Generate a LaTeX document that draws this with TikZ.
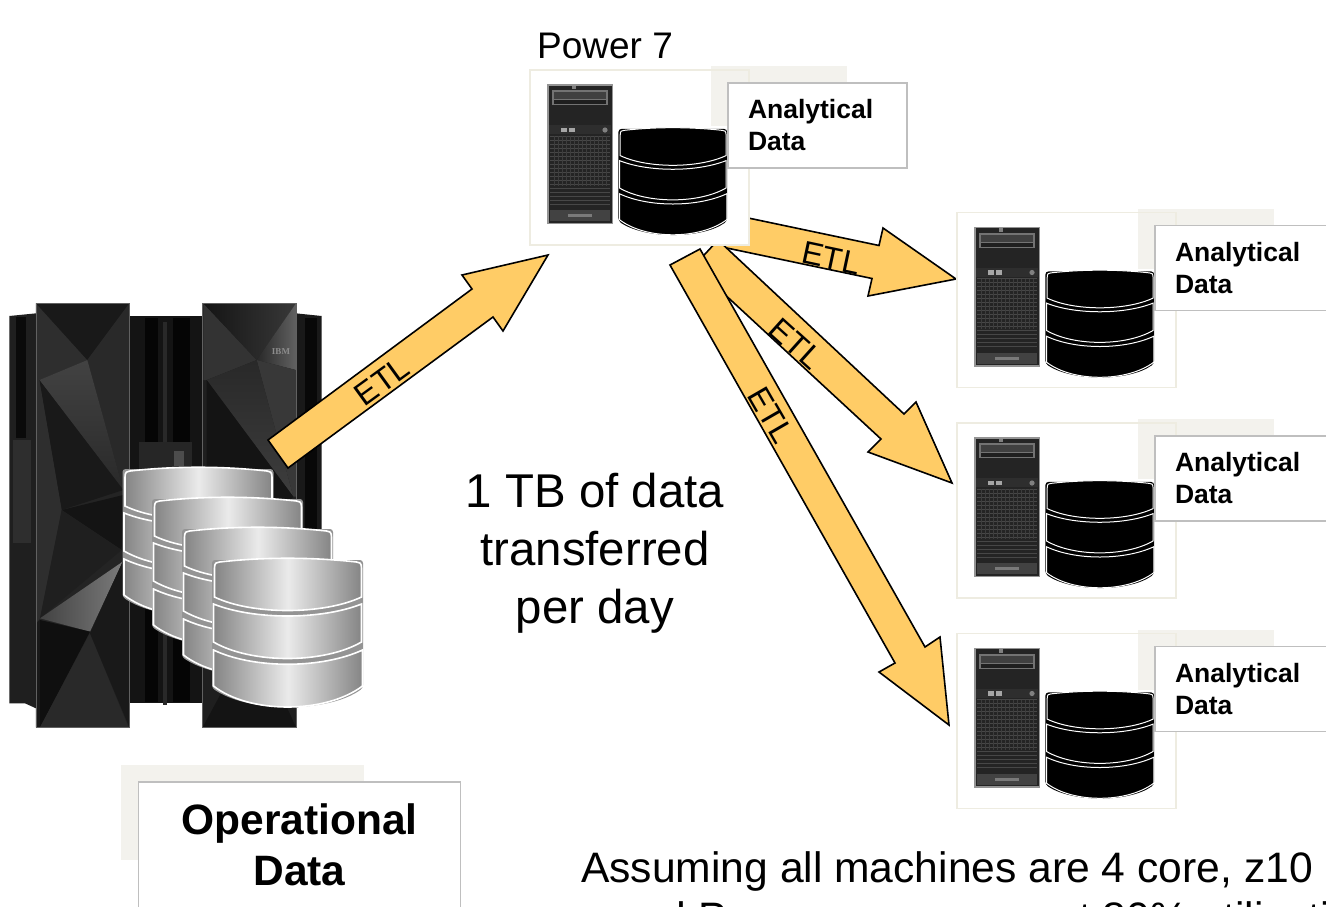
\documentclass[tikz,border=0pt]{standalone}
\usepackage{fontspec}
\setmainfont{Liberation Sans}
\newfontfamily\ibmfont{Liberation Serif}
\usetikzlibrary{calc}
\definecolor{arrowfill}{HTML}{FFCC66}
\definecolor{boxline}{HTML}{EEECE1}
\definecolor{backing}{HTML}{F3F2ED}
\definecolor{calloutline}{HTML}{BFBFBF}
\tikzset{
  x=1pt,y=-1pt,
  blockarrow/.style={draw=black,line width=1.6pt,fill=arrowfill,line join=miter},
  etl/.style={font=\fontsize{32}{32}\selectfont,inner sep=0pt,text=black},
  unitbox/.style={draw=boxline,line width=1.7pt,outer sep=0pt},
  callout/.style={draw=calloutline,line width=1.8pt,fill=white,anchor=north west,align=left,outer sep=0pt,
    text width=139pt,inner xsep=20pt,inner ysep=0pt,minimum height=85pt,
    font=\fontsize{26.5}{32}\selectfont\bfseries},
  facet/.style={draw=none},
  grey disk/.style={draw=white,line width=1.6pt,left color=black!48,right color=black!48,middle color=black!8},
  black disk/.style={draw=white,line width=1pt,fill=black},
  stack grey/.style={fill=black!42},
  stack black/.style={fill=black},
}
% one disk stack: x, y, scale, disk style, backing style
\newcommand{\diskstack}[5]{%
 \begin{scope}[shift={(#1,#2)},x=#3 pt,y=-#3 pt]
  \path[#5,rounded corners=3pt] (-1.5,2) -- (149.5,2) -- (149.5,130) .. controls (115,155) and (35,155) .. (-1.5,130) -- cycle;
  \path[#4] (1,10) .. controls (1,5) and (3,4) .. (6,4) .. controls (50,-1) and (98,-1) .. (143,4) .. controls (146,4) and (148,5) .. (148,10) -- (148,39) .. controls (110,57) and (38,57) .. (1,39) -- cycle;
  \path[#4] (0,46) .. controls (40,62) and (108,62) .. (148,46) -- (148,84) .. controls (110,106) and (38,106) .. (0,84) -- cycle;
  \path[#4] (0,92) .. controls (40,111) and (108,111) .. (149,92) -- (149,128) .. controls (112,156) and (36,156) .. (0,128) -- cycle;
 \end{scope}}
% tower server: origin is the unit's top left corner
\newcommand{\servertower}[2]{%
 \begin{scope}[shift={(#1,#2)}]
  \fill[black!42] (17,14) rectangle (83,154);
  \fill[black!86] (18.5,15.5) rectangle (81.5,152.5);
  \fill[black!55] (22,20) rectangle (78,35);
  \fill[black!75] (24,22) rectangle (76,29);
  \fill[black!88] (24,30) rectangle (76,34);
  \fill[black!50] (42,15.5) rectangle (46,19);
  \fill[black!82] (19,55) rectangle (81,64);
  \fill[black!35] (31,57.5) rectangle (37,62);
  \fill[black!35] (39,57.5) rectangle (45,62);
  \fill[black!50] (75,60) circle (2.6);
  \foreach \yy in {66,70,...,134} {\draw[black!72,line width=.9pt] (20,\yy) -- (80,\yy);}
  \foreach \xx in {24,28,...,76} {\draw[black!76,line width=.7pt] (\xx,66) -- (\xx,116);}
  \fill[black!74] (20,140) rectangle (80,151);
  \fill[black!52] (38,144) rectangle (62,147);
 \end{scope}}
% complete unit: box, backing, tower, disks, callout
\newcommand{\analyticalunit}[3]{%
  \node[unitbox,fill=white,anchor=north west,inner sep=0pt,minimum width=219pt,minimum height=175pt] (#1box) at (#2,#3) {};
  \fill[backing] ($(#2,#3)+(181,-4)$) rectangle ($(#2,#3)+(317,56)$);
  \draw[unitbox] (#2,#3) rectangle ($(#2,#3)+(219,175)$);
  \servertower{#2}{#3}
  \begin{scope}[shift={(#2,#3)}]\diskstack{89.5}{57.5}{0.72}{black disk}{stack black}\end{scope}
  \node[callout] (#1label) at ($(#2,#3)+(198,13)$) {Analytical\\Data};
}
\begin{document}
\begin{tikzpicture}
\useasboundingbox (0,0) rectangle (1326,906);
\clip (0,0) rectangle (1326,906);
\fill[white] (0,0) rectangle (1326,906);

% ---------- mainframe ----------
\begin{scope}[shift={(0,290)},x=0.33333pt,y=-0.33333pt]
  \fill[black!88] (28,78) -- (108,70) -- (108,1255) -- (75,1240) -- (28,1240) -- cycle;
  \fill[black!96] (48,80) rectangle (78,445);
  \fill[black!82] (40,450) -- (92,450) -- (92,760) -- (40,760) -- cycle;
  \fill[black!90] (888,70) -- (965,78) -- (965,1240) -- (918,1240) -- (888,1255) -- cycle;
  \fill[black!97] (915,85) rectangle (950,1230);
  \fill[black!92] (388,78) rectangle (610,1240);
  \fill[black!98] (435,85) rectangle (475,1235);
  \fill[black!84] (490,95) rectangle (502,1245);
  \fill[black!98] (520,85) rectangle (570,1235);
  \fill[black!85] (418,455) -- (575,455) -- (575,540) -- (418,540) -- cycle;
  \fill[black!70] (522,482) rectangle (552,528);
  % left door
  \fill[black!86] (108,40) rectangle (388,1312);
  \fill[black!82,facet] (108,40) -- (262,210) -- (118,270) -- (108,270) -- cycle;
  \fill[black!90,facet] (108,40) -- (388,40) -- (262,210) -- cycle;
  \fill[black!84,facet] (388,40) -- (262,210) -- (370,600) -- (388,600) -- cycle;
  \shade[facet,top color=black!74,bottom color=black!84] (118,270) -- (262,210) -- (370,600) -- cycle;
  \fill[black!90,facet] (118,270) -- (370,600) -- (185,660) -- cycle;
  \fill[black!82,facet] (108,270) -- (118,270) -- (185,660) -- (120,985) -- (108,1000) -- cycle;
  \fill[black!92,facet] (185,660) -- (370,615) -- (365,780) -- cycle;
  \fill[black!88,facet] (185,660) -- (365,780) -- (120,985) -- cycle;
  \shade[facet,left color=black!74,right color=black!52] (120,985) -- (368,815) -- (270,1025) -- cycle;
  \fill[black!94,facet] (120,990) -- (270,1025) -- (120,1312) -- cycle;
  \fill[black!84,facet] (270,1030) -- (120,1312) -- (385,1312) -- cycle;
  \fill[black!90,facet] (270,1030) -- (368,815) -- (388,815) -- (388,1312) -- cycle;
  \fill[black!90,facet] (108,1000) -- (120,990) -- (120,1312) -- (108,1312) -- cycle;
  % right door
  \fill[black!88] (608,40) rectangle (888,1312);
  \fill[black!80,facet] (610,40) -- (770,210) -- (620,270) -- (610,270) -- cycle;
  \shade[facet,left color=black!92,right color=black!78] (610,40) -- (888,40) -- (770,210) -- cycle;
  \shade[facet,left color=black!84,right color=black!62] (888,40) -- (770,210) -- (888,240) -- cycle;
  \fill[black!78,facet] (770,210) -- (888,240) -- (888,620) -- (880,620) -- cycle;
  \shade[facet,top color=black!84,bottom color=black!76] (620,270) -- (770,210) -- (880,620) -- cycle;
  \fill[black!92,facet] (620,270) -- (880,620) -- (700,800) -- (620,660) -- cycle;
  \fill[black!92,facet] (608,1312) -- (888,1312) -- (760,1030) -- cycle;
  \draw[black!62,line width=.6pt] (108,40) rectangle (388,1312);
  \draw[black!62,line width=.6pt] (608,40) rectangle (888,1312);
  \node[font=\ibmfont\bfseries\fontsize{9}{9}\selectfont,text=black!45,inner sep=0pt] (ibm) at (843,186) {IBM};
\end{scope}

% ---------- grey disk stacks ----------
\diskstack{124}{467}{1}{grey disk}{stack grey}
\diskstack{153.5}{497}{1}{grey disk}{stack grey}
\diskstack{183.5}{527}{1}{grey disk}{stack grey}
\diskstack{213.5}{558}{1}{grey disk}{stack grey}

% ---------- block arrows ----------
\draw[blockarrow] (268,440) -- (472,289) -- (462,275) -- (548,255) -- (503,331) -- (493,317) -- (288,468) -- cycle;
\draw[blockarrow] (715,211) -- (879,245.5) -- (883,228) -- (956,279) -- (868,296) -- (872,278.5) -- (722,247) -- cycle;
\draw[blockarrow] (718,240) -- (904,414) -- (916,402) -- (952,483) -- (868,452) -- (881,439) -- (694,266) -- cycle;
\draw[blockarrow] (670,265) -- (700,249) -- (925,647) -- (940,637) -- (949,725) -- (879,672) -- (895,663) -- cycle;

% ---------- units ----------
\analyticalunit{power}{530}{70}
\analyticalunit{one}{957}{212.5}
\analyticalunit{two}{957}{423}
\analyticalunit{three}{957}{633.5}

% ---------- arrow labels ----------
\node[etl,rotate=36] (etlA) at (382,381) {ETL};
\node[etl,rotate=-12] (etlB) at (831,258) {ETL};
\node[etl,rotate=-42] (etlC) at (796,344) {ETL};
\node[etl,rotate=-60] (etlD) at (771,415) {ETL};

% ---------- texts ----------
\node[anchor=base west,inner sep=0pt,font=\fontsize{37}{37}\selectfont] (powerseven) at (537,58) {Power 7};
\node[align=center,inner sep=0pt,font=\fontsize{47.4}{58}\selectfont] (transfer) at (595,553) {1 TB of data\\transferred\\per day};
\fill[backing] (121,765) rectangle (364,860);
\node[draw=calloutline,line width=1.8pt,fill=white,anchor=north west,outer sep=0pt,minimum width=322pt,minimum height=126pt,
  inner sep=0pt,align=center,font=\fontsize{42.5}{51}\selectfont\bfseries] (operational) at (138.5,782) {Operational\\Data};
\node[anchor=base west,inner sep=0pt,font=\fontsize{42.6}{50}\selectfont] (assumeA) at (581,882) {Assuming all machines are 4 core, z10};
\node[anchor=base west,inner sep=0pt,font=\fontsize{42.6}{50}\selectfont] (assumeB) at (615,932) {and Power servers are at 80\% utilization};
\end{tikzpicture}
\end{document}
